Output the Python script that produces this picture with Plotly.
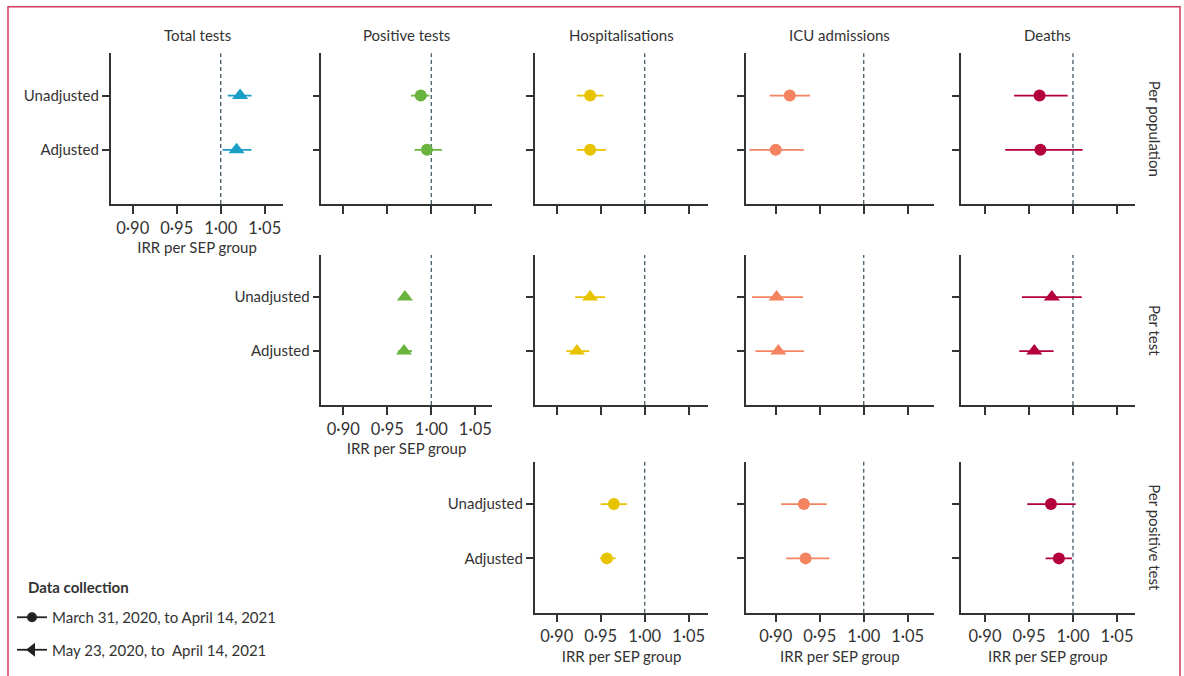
import plotly.graph_objects as go

W, H = 1184, 676

outcomes = ["Total tests", "Positive tests", "Hospitalisations", "ICU admissions", "Deaths"]
denominators = ["Per population", "Per test", "Per positive test"]
models = ["Unadjusted", "Adjusted"]
tick_vals = [0.90, 0.95, 1.00, 1.05]
tick_text = ["0·90", "0·95", "1·00", "1·05"]
colors = ["#1a9ec6", "#6bb33f", "#e8c300", "#f4845f", "#b3003b"]

# estimates [Unadjusted, Adjusted], lower and upper 95% CI
# Per population
pop_total_est = [1.022, 1.018]; pop_total_lo = [1.008, 1.002]; pop_total_hi = [1.035, 1.035]
pop_pos_est = [0.988, 0.995];   pop_pos_lo = [0.977, 0.981];   pop_pos_hi = [0.998, 1.012]
pop_hosp_est = [0.938, 0.938];  pop_hosp_lo = [0.923, 0.923];  pop_hosp_hi = [0.953, 0.956]
pop_icu_est = [0.916, 0.900];   pop_icu_lo = [0.893, 0.870];   pop_icu_hi = [0.939, 0.932]
pop_death_est = [0.962, 0.963]; pop_death_lo = [0.933, 0.923]; pop_death_hi = [0.994, 1.011]
# Per test
test_pos_est = [0.970, 0.969];   test_pos_lo = [0.967, 0.962];   test_pos_hi = [0.973, 0.978]
test_hosp_est = [0.938, 0.923];  test_hosp_lo = [0.921, 0.911];  test_hosp_hi = [0.955, 0.937]
test_icu_est = [0.901, 0.903];   test_icu_lo = [0.873, 0.877];   test_icu_hi = [0.931, 0.932]
test_death_est = [0.976, 0.956]; test_death_lo = [0.942, 0.939]; test_death_hi = [1.010, 0.978]
# Per positive test
ppos_hosp_est = [0.965, 0.957];  ppos_hosp_lo = [0.950, 0.949];  ppos_hosp_hi = [0.980, 0.967]
ppos_icu_est = [0.932, 0.934];   ppos_icu_lo = [0.906, 0.912];   ppos_icu_hi = [0.958, 0.961]
ppos_death_est = [0.975, 0.984]; ppos_death_lo = [0.948, 0.969]; ppos_death_hi = [1.003, 0.999]

# panels: (row, col, est, lo, hi, symbol)
panels = [
    (0, 0, pop_total_est, pop_total_lo, pop_total_hi, "triangle-up"),
    (0, 1, pop_pos_est, pop_pos_lo, pop_pos_hi, "circle"),
    (0, 2, pop_hosp_est, pop_hosp_lo, pop_hosp_hi, "circle"),
    (0, 3, pop_icu_est, pop_icu_lo, pop_icu_hi, "circle"),
    (0, 4, pop_death_est, pop_death_lo, pop_death_hi, "circle"),
    (1, 1, test_pos_est, test_pos_lo, test_pos_hi, "triangle-up"),
    (1, 2, test_hosp_est, test_hosp_lo, test_hosp_hi, "triangle-up"),
    (1, 3, test_icu_est, test_icu_lo, test_icu_hi, "triangle-up"),
    (1, 4, test_death_est, test_death_lo, test_death_hi, "triangle-up"),
    (2, 2, ppos_hosp_est, ppos_hosp_lo, ppos_hosp_hi, "circle"),
    (2, 3, ppos_icu_est, ppos_icu_lo, ppos_icu_hi, "circle"),
    (2, 4, ppos_death_est, ppos_death_lo, ppos_death_hi, "circle"),
]

# layout geometry (pixels)
col_px = [(110.7, 283.3), (321.3, 491.7), (534.7, 708.3), (745.7, 934.0), (960.7, 1135.0)]
col_range = [[0.875, 1.0711], [0.875, 1.0686], [0.875, 1.0723], [0.8659, 1.0799], [0.8724, 1.0705]]
row_px = [(53.3, 204.0), (255.0, 405.0), (461.7, 612.7)]
first_col_in_row = [0, 1, 2]
last_row_in_col = [0, 1, 2, 2, 2]

FONT = "Lato"
TXT = "#333333"
AX = "#333333"
FS = 15

fig = go.Figure()
layout = dict(
    width=W, height=H, margin=dict(l=0, r=0, t=0, b=0),
    paper_bgcolor="white", plot_bgcolor="white",
    font=dict(family=FONT, size=FS, color=TXT),
    shapes=[], annotations=[],
)

ypos = [2, 1]
for i, (r, c, est, lo, hi, sym) in enumerate(panels):
    n = i + 1
    xa = "x" if n == 1 else f"x{n}"
    ya = "y" if n == 1 else f"y{n}"
    fig.add_trace(go.Scatter(
        x=est, y=ypos, xaxis=xa, yaxis=ya, mode="markers", showlegend=False,
        marker=dict(symbol=sym, size=12 if sym == "circle" else 14, color=colors[c], line=dict(width=0)),
        error_x=dict(type="data", symmetric=False,
                     array=[h - e for h, e in zip(hi, est)],
                     arrayminus=[e - l for e, l in zip(est, lo)],
                     color=colors[c], thickness=1.8, width=0),
        hoverinfo="skip",
    ))
    x0, x1 = col_px[c]
    y0, y1 = row_px[r]
    bottom = last_row_in_col[c] == r
    left = first_col_in_row[r] == c
    layout["xaxis" if n == 1 else f"xaxis{n}"] = dict(
        domain=[x0 / W, x1 / W], anchor=ya, range=col_range[c],
        tickvals=tick_vals, ticktext=tick_text, showticklabels=bottom,
        ticks="outside", ticklen=8, tickwidth=1.5, tickcolor=AX,
        showline=True, linecolor=AX, linewidth=1.5, showgrid=False, zeroline=False,
        tickfont=dict(size=16.5, color=TXT),
        title=dict(text="IRR per SEP group" if bottom else "", standoff=6, font=dict(size=FS, color=TXT)),
    )
    layout["yaxis" if n == 1 else f"yaxis{n}"] = dict(
        domain=[1 - y1 / H, 1 - y0 / H], anchor=xa, range=[0, 2.78],
        tickvals=ypos, ticktext=models, showticklabels=left,
        ticks="outside", ticklen=7, tickwidth=1.5, tickcolor=AX,
        showline=True, linecolor=AX, linewidth=1.5, showgrid=False, zeroline=False,
        tickfont=dict(size=FS, color=TXT),
    )
    layout["shapes"].append(dict(
        type="line", xref=xa, yref=f"{ya} domain", x0=1.0, x1=1.0, y0=0, y1=1,
        line=dict(color="#506672", width=1.4, dash="4px,3px"), layer="below",
    ))

for c, name in enumerate(outcomes):
    x0, x1 = col_px[c]
    layout["annotations"].append(dict(
        text=name, xref="paper", yref="paper", x=(x0 + x1) / 2 / W, y=1 - 35 / H,
        xanchor="center", yanchor="middle", showarrow=False, font=dict(size=FS, color=TXT),
    ))
for r, name in enumerate(denominators):
    y0, y1 = row_px[r]
    layout["annotations"].append(dict(
        text=name, xref="paper", yref="paper", x=1155 / W, y=1 - (y0 + y1) / 2 / H,
        xanchor="center", yanchor="middle", textangle=90, showarrow=False,
        font=dict(size=FS, color=TXT),
    ))

# legend title
layout["annotations"].append(dict(
    text="<b>Data collection</b>", xref="paper", yref="paper", x=26 / W, y=1 - 587 / H,
    xanchor="left", yanchor="middle", showarrow=False, font=dict(size=FS, color=TXT),
))

# outer frame
layout["shapes"].append(dict(
    type="rect", xref="paper", yref="paper", x0=8 / W, x1=1180 / W, y0=-0.05, y1=1 - 6.7 / H,
    line=dict(color="#d23a5e", width=1.5), fillcolor="rgba(0,0,0,0)",
))

# legend entries
fig.add_trace(go.Scatter(x=[None], y=[None], mode="lines+markers", name="March 31, 2020, to April 14, 2021",
                         line=dict(color="#222", width=1.8), marker=dict(symbol="circle", size=10, color="#222"),
                         legendgroup="a"))
fig.add_trace(go.Scatter(x=[None], y=[None], mode="lines+markers", name="May 23, 2020, to  April 14, 2021",
                         line=dict(color="#222", width=1.8), marker=dict(symbol="triangle-left", size=12, color="#222"),
                         legendgroup="b"))
layout["showlegend"] = True
layout["legend"] = dict(
    x=12 / W, y=1 - 601 / H, xanchor="left", yanchor="top",
    font=dict(size=FS, color=TXT), tracegroupgap=10, traceorder="grouped",
    bgcolor="rgba(0,0,0,0)",
)

fig.update_layout(**layout)
fig.write_html("out.html", config={"displayModeBar": False},
               post_script="document.body.style.margin='0';document.body.style.overflow='hidden';")
